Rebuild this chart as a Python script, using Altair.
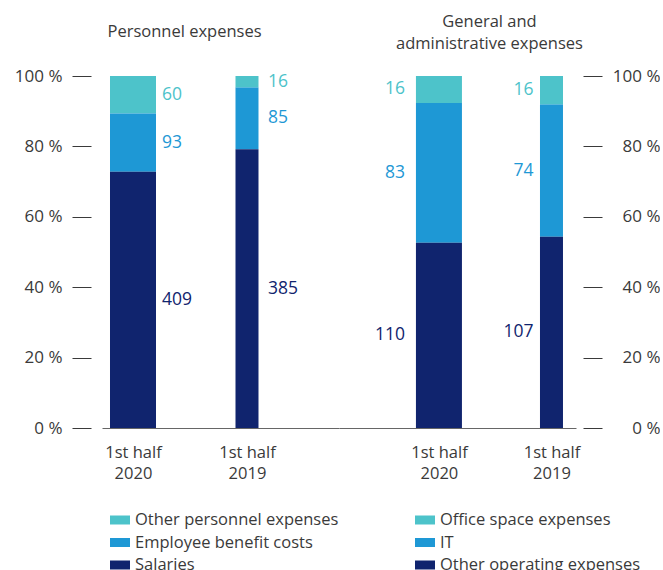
import altair as alt
import pandas as pd

periods = ["1st half 2020", "1st half 2019"]

personnel_categories = ["Other personnel expenses", "Employee benefit costs", "Salaries"]
personnel_2020 = [60, 93, 409]
personnel_2019 = [16, 85, 385]

ga_categories = ["Office space expenses", "IT", "Other operating expenses"]
ga_2020 = [16, 83, 110]
ga_2019 = [16, 74, 107]

colors = ["#4DC3CA", "#1E98D5", "#10246E"]
y_ticks = [0, 0.2, 0.4, 0.6, 0.8, 1.0]

FONT = "Open Sans"
TEXT = "#3a3a3a"


def make_df(cats, v2020, v2019):
    rows = []
    for period, vals in zip(periods, [v2020, v2019]):
        for i, (c, v) in enumerate(zip(cats, vals)):
            rows.append({"period": period, "category": c, "value": v, "rank": i})
    return pd.DataFrame(rows)


def panel(df, cats, title, orient, pad, align, dx2020, dx2019, text_align,
          title_dx, title_offset, legend_x, label_padding, label_align, axis_offset):
    base = alt.Chart(df).transform_stack(
        stack="value", groupby=["period"], as_=["y0", "y1"], offset="normalize",
        sort=[alt.SortField("rank", order="descending")]
    ).transform_calculate(mid="(datum.y0 + datum.y1) / 2")

    x = alt.X("period:N", sort=periods, title=None,
              scale=alt.Scale(type="point", padding=pad, align=align),
              axis=alt.Axis(labelExpr="['1st half', substring(datum.value, 9)]",
                            labelAngle=0, ticks=False, domainColor="#666666",
                            labelFont=FONT, labelFontSize=16.5, labelColor=TEXT,
                            labelPadding=16, labelLineHeight=21))
    yscale = alt.Scale(domain=[0, 1])
    yaxis = alt.Axis(orient=orient, values=y_ticks, domain=False, grid=False,
                     labelExpr="format(datum.value * 100, 'd') + ' %'",
                     offset=axis_offset, tickSize=19, tickColor=TEXT,
                     labelFont=FONT, labelFontSize=17, labelColor=TEXT,
                     labelPadding=label_padding, labelAlign=label_align)
    color = alt.Color("category:N", scale=alt.Scale(domain=cats, range=colors),
                      legend=alt.Legend(title=None, orient="none", legendX=legend_x, legendY=434,
                                        symbolType="M-1,-0.45H1V0.45H-1Z", symbolSize=400,
                                        symbolStrokeWidth=0, labelFont=FONT, labelFontSize=16.5,
                                        labelColor=TEXT, labelOffset=5, rowPadding=3.5,
                                        labelLimit=0, direction="vertical"))

    bars = base.mark_bar().encode(
        x=x,
        y=alt.Y("y0:Q", scale=yscale, axis=yaxis, title=None),
        y2="y1:Q",
        color=color,
        size=alt.condition(f"datum.period == '{periods[0]}'", alt.value(46), alt.value(23)),
    )
    layers = [bars]
    for p, dx in zip(periods, [dx2020, dx2019]):
        layers.append(
            base.transform_filter(f"datum.period == '{p}'").mark_text(
                align=text_align, baseline="middle", dx=dx, font=FONT, fontSize=17.5
            ).encode(
                x=x,
                y=alt.Y("mid:Q", scale=yscale, axis=yaxis, title=None),
                text="value:Q",
                color=color,
            )
        )
    return alt.layer(*layers).properties(
        width=237, height=352,
        title=alt.TitleParams(title, anchor="middle", dx=title_dx, offset=title_offset,
                              font=FONT, fontSize=16.5, fontWeight="normal", color=TEXT,
                              lineHeight=22),
    )


left = panel(make_df(personnel_categories, personnel_2020, personnel_2019),
             personnel_categories, "Personnel expenses", "left",
             0.5395, 0.252, 29, 21, "left", -36, 27, 8, 10, "right", 11)
right = panel(make_df(ga_categories, ga_2020, ga_2019),
              ga_categories, ["General and", "administrative expenses"], "right",
              0.553, 0.803, -34, -18, "right", 32, 15, 76, 58, "right", 7)

chart = alt.hconcat(left, right, spacing=0).resolve_scale(
    color="independent", x="independent", y="independent"
).resolve_legend(color="independent").properties(
    padding={"left": 14, "top": 13, "right": 0, "bottom": 0},
).configure_view(stroke=None)

chart.save("out.html", embed_options={"renderer": "svg", "actions": False})
